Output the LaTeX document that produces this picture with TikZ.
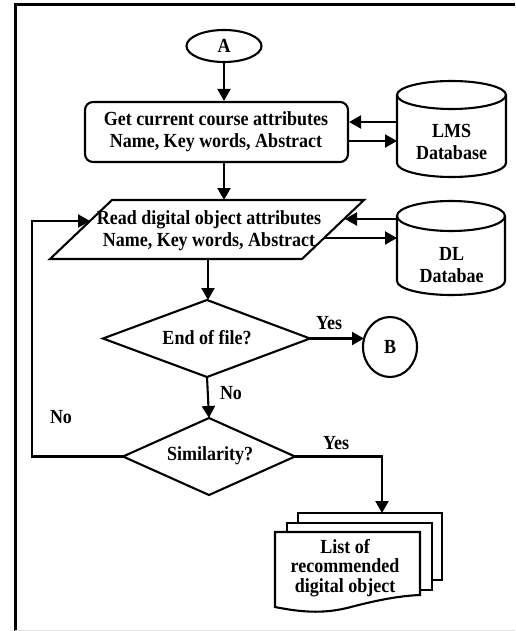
\documentclass[tikz,border=0pt]{standalone}
\usepackage{fontspec}
\setmainfont{Liberation Serif}[FakeStretch=0.9]
\usetikzlibrary{arrows.meta,shapes.geometric}
\begin{document}
\begin{tikzpicture}[x=1pt,y=-1pt,line width=2.1pt,
  every node/.style={font=\fontsize{20}{22}\selectfont\bfseries,inner sep=0pt,align=center},
  arr/.style={-{Triangle[length=12pt,width=13pt]}},
  oval/.style={draw,ellipse},
  procbox/.style={draw,rounded corners=8pt,minimum width=263pt,minimum height=60pt},
  doctxt/.style={font=\fontsize{20}{19.5}\selectfont\bfseries}]
\useasboundingbox (0,0) rectangle (515,631);
% frame
\draw[line width=3pt] (15,631) -- (15,4.5) -- (515,4.5);
\draw[line width=1pt,black!12] (15,630) -- (515,630);

% start
\node[oval,minimum width=75pt,minimum height=32pt] (A) at (224,46) {A};
\node[procbox] (box) at (216.5,132) {};
\node (boxt) at (216,132) {Get current course attributes\\Name, Key words, Abstract};

% LMS cylinder
\node (lms) at (451.5,142) {LMS\\Database};
\draw (397,95) -- (397,163) arc[start angle=180,end angle=360,x radius=54.5pt,y radius=14pt] -- (506,95);
\draw (451.5,95) ellipse[x radius=54.5pt,y radius=14pt];
\coordinate (lmsA) at (397,122);
\coordinate (lmsB) at (397,141);

% parallelogram
\coordinate (p1) at (50,259);
\coordinate (p2) at (112,200);
\coordinate (p3) at (364,200);
\coordinate (p4) at (302,259);
\draw (p1) -- (p2) -- (p3) -- (p4) -- cycle;
\node (para) at (209,231) {Read digital object attributes\\Name, Key words, Abstract};
\coordinate (paraTop) at (224,200);
\coordinate (paraBot) at (208,259);
\coordinate (paraR1) at (345,219);
\coordinate (paraR2) at (324,238);
\coordinate (paraL) at (90,221);

% DL cylinder
\node (dl) at (451.5,265) {DL\\Databae};
\draw (397,216) -- (397,281) arc[start angle=180,end angle=360,x radius=54pt,y radius=14pt] -- (505,216);
\draw (451,216) ellipse[x radius=54pt,y radius=15pt];
\coordinate (dlA) at (397,219);
\coordinate (dlB) at (397,238);

% decision 1
\coordinate (d1n) at (207,300);
\coordinate (d1e) at (310,338.5);
\coordinate (d1s) at (207,377);
\coordinate (d1w) at (103,338.5);
\draw (d1n) -- (d1e) -- (d1s) -- (d1w) -- cycle;
\node (d1) at (207,338) {End of file?};

% B
\node[oval,minimum width=54pt,minimum height=60pt] (B) at (390,347) {B};
\coordinate (Bw) at (364,338.5);

% decision 2
\coordinate (d2n) at (209,418);
\coordinate (d2e) at (295,456.5);
\coordinate (d2s) at (209,495);
\coordinate (d2w) at (123,456.5);
\draw (d2n) -- (d2e) -- (d2s) -- (d2w) -- cycle;
\node (d2) at (210,456) {Similarity?};

% documents
\draw[fill=white] (298,513) rectangle (442,580);
\draw[fill=white] (287,523) rectangle (432,590);
\draw[fill=white] (275,532) -- (420,532) -- (420,595)
  .. controls (395,596) and (370,602) .. (347,608)
  .. controls (322,614) and (300,612) .. (275,607) -- cycle;
\node[doctxt] (doc) at (345,568) {List of\\recommended\\digital object};
\coordinate (docTop) at (382,513);
\coordinate (loopC) at (32,456.5);

% connectors
\draw[arr] (A) -- (A.south |- box.north);
\draw[arr] (lmsA) -- (lmsA -| box.east);
\draw[arr] (lmsB -| box.east) -- (lmsB);
\draw[arr] (box.south -| paraTop) -- (paraTop);
\draw[arr] (dlA) -- (paraR1);
\draw[arr] (paraR2) -- (dlB);
\draw[arr] (paraBot) -- (paraBot |- d1n);
\draw[arr] (d1e) -- (Bw);
\draw[arr] (d1s) -- (d2n);
\draw[arr] (d2w) -- (loopC) -- (loopC |- paraL) -- (paraL);
\draw[arr] (d2e) -- (d2e -| docTop) -- (docTop);

% labels
\node (yes1) at (329,323) {Yes};
\node (no1) at (231,393) {No};
\node (no2) at (61,417) {No};
\node (yes2) at (336,443) {Yes};
\end{tikzpicture}
\end{document}
